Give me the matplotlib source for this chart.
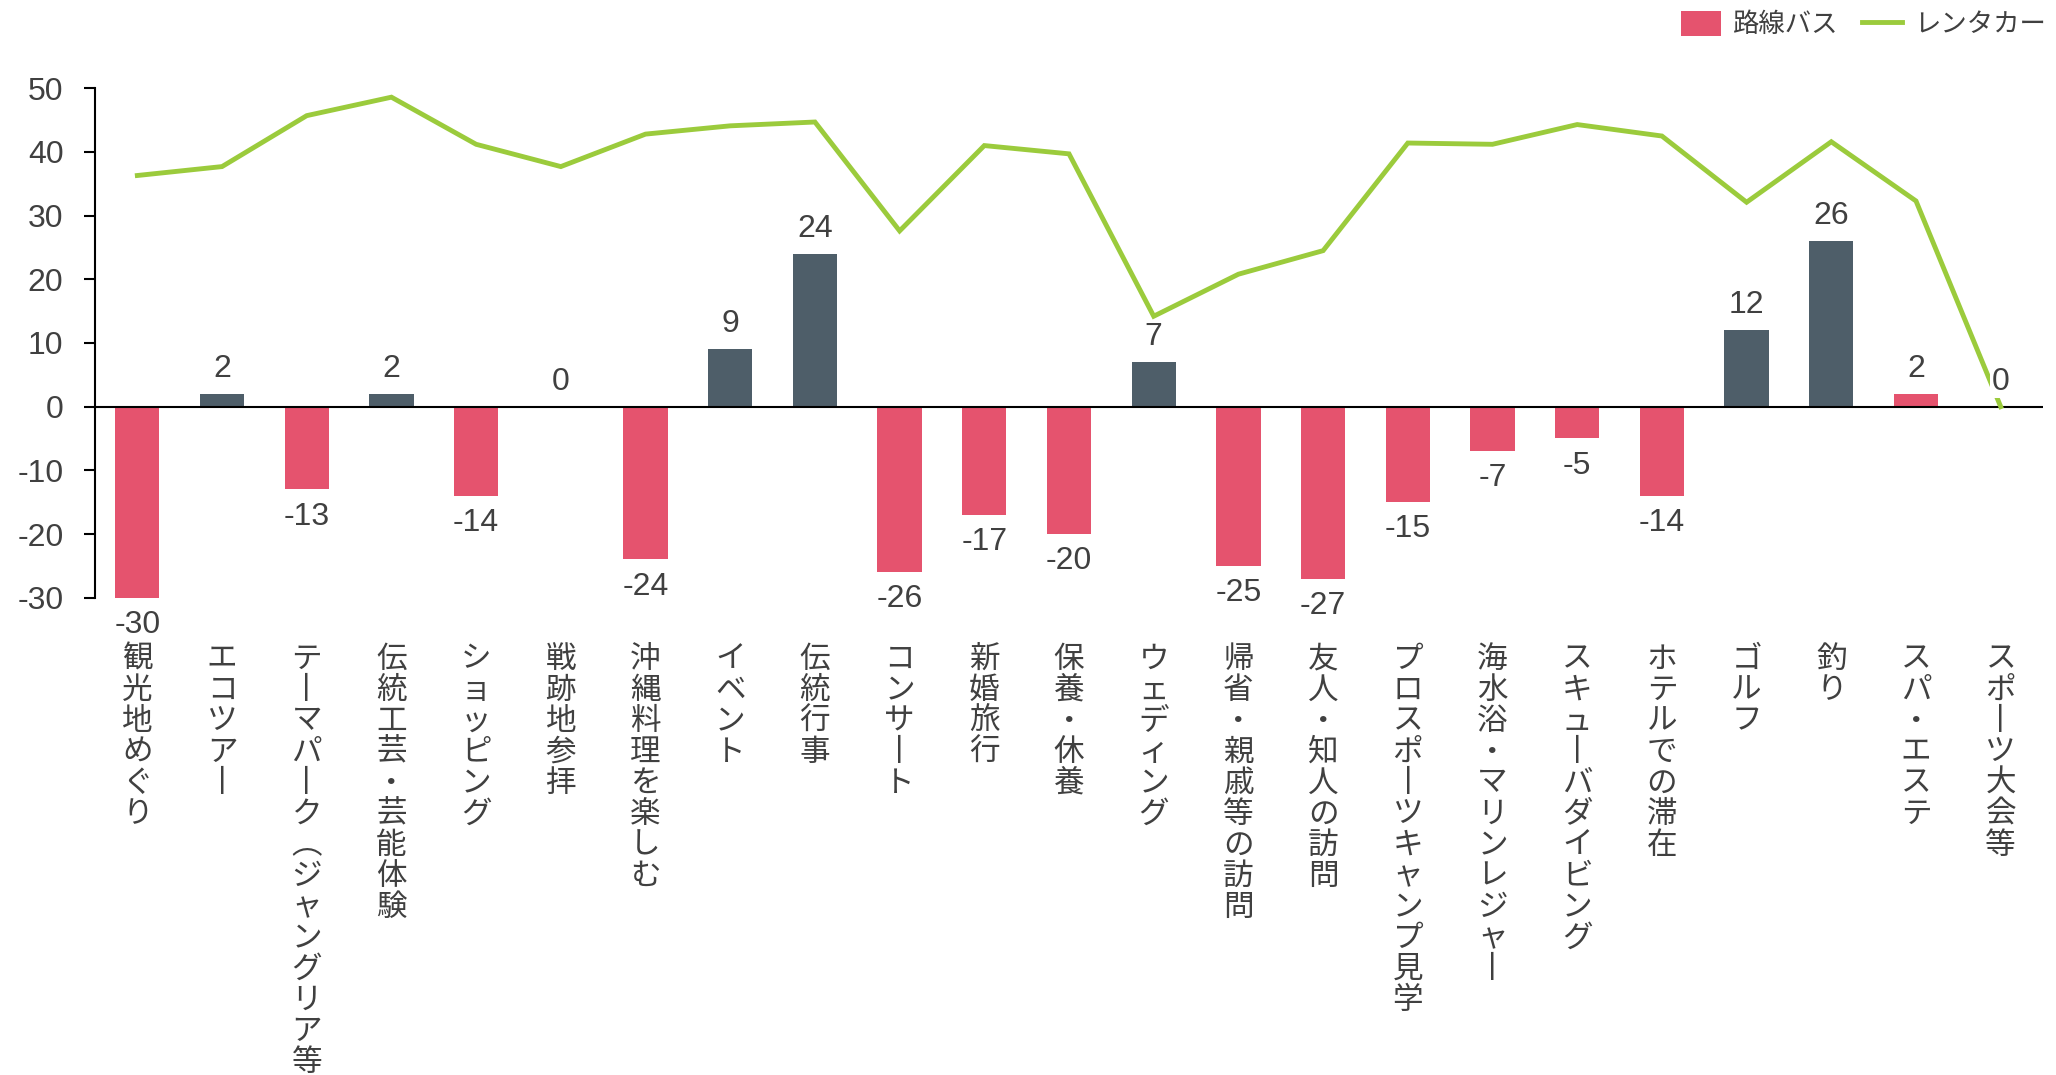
import matplotlib
matplotlib.use('Agg')
import matplotlib.pyplot as plt
from matplotlib.patches import Patch
from matplotlib.lines import Line2D

categories = ['観光地めぐり', 'エコツアー', 'テーマパーク（ジャングリア等）', '伝統工芸・芸能体験',
              'ショッピング', '戦跡地参拝', '沖縄料理を楽しむ', 'イベント', '伝統行事', 'コンサート',
              '新婚旅行', '保養・休養', 'ウェディング', '帰省・親戚等の訪問', '友人・知人の訪問',
              'プロスポーツキャンプ見学', '海水浴・マリンレジャー', 'スキューバダイビング',
              'ホテルでの滞在', 'ゴルフ', '釣り', 'スパ・エステ', 'スポーツ大会等']
bus = [-30, 2, -13, 2, -14, 0, -24, 9, 24, -26, -17, -20, 7, -25, -27, -15, -7, -5, -14, 12, 26, 2, 0]
rental = [36.3, 37.7, 45.7, 48.6, 41.2, 37.7, 42.8, 44.1, 44.7, 27.6, 41.0, 39.7, 14.2, 20.8,
          24.5, 41.4, 41.2, 44.3, 42.5, 32.1, 41.6, 32.3, 0]
series_names = ['路線バス', 'レンタカー']
pink_positive = ['スパ・エステ']

PINK = '#E5536E'
DARK = '#4E5E69'
GREEN = '#9BCB3C'
TXT = '#404040'
NUM_FONT = ['Liberation Sans', 'DejaVu Sans']
JP_FONT = ['Noto Sans CJK JP', 'DejaVu Sans']

# vertical-writing substitutes
VERT = {'ー': '丨', '（': '︵', '）': '︶'}


def vertical(s):
    return '\n'.join(VERT.get(c, c) for c in s)


fig = plt.figure(figsize=(20.56, 10.75), dpi=100)
ax = fig.add_axes([0.0462, 0.444, 0.9475, 0.4739])

x = list(range(len(categories)))
colors = [DARK if (v > 0 and c not in pink_positive) else PINK for c, v in zip(categories, bus)]
ax.bar(x, bus, width=0.523, color=colors, zorder=2)
ax.plot(x, rental, color=GREEN, lw=3.5, zorder=3, solid_joinstyle='miter')

for xi, v in zip(x, bus):
    off = 18 if v >= 0 else -19.5
    ax.annotate(f'{v:d}', (xi, v), xytext=(0, off), textcoords='offset points',
                ha='center', va='center', fontsize=23, color=TXT, family=NUM_FONT,
                zorder=4, bbox=dict(boxstyle='square,pad=0.05', fc='white', ec='none'))

ax.set_xlim(-0.5, len(categories) - 0.5)
ax.set_ylim(-30, 50)
ax.set_yticks(range(-30, 51, 10))
ax.set_yticklabels([str(t) for t in range(-30, 51, 10)], family=NUM_FONT, fontsize=23, color=TXT)
ax.tick_params(axis='y', length=7.7, width=1.5, color='black', pad=15)
ax.axhline(0, color='black', lw=1.5, zorder=2.5)

for s in ['top', 'right', 'bottom']:
    ax.spines[s].set_visible(False)
ax.spines['left'].set_linewidth(1.5)
ax.spines['left'].set_color('black')

ax.set_xticks(x)
ax.set_xticklabels([vertical(c) for c in categories], family=JP_FONT, fontsize=22,
                   color=TXT, linespacing=1.0)
ax.tick_params(axis='x', length=0, pad=33)

handles = [Patch(facecolor=PINK, edgecolor='none'), Line2D([0], [0], color=GREEN, lw=3.5)]
fig.legend(handles, series_names, loc='upper right', bbox_to_anchor=(0.995, 0.990), ncol=2,
           frameon=False, prop={'family': JP_FONT, 'size': 19}, handlelength=1.52,
           handleheight=1.1, handletextpad=0.45, columnspacing=0.9, labelcolor=TXT,
           borderaxespad=0.0, borderpad=0.0)

fig.savefig('out.png', dpi=100)
